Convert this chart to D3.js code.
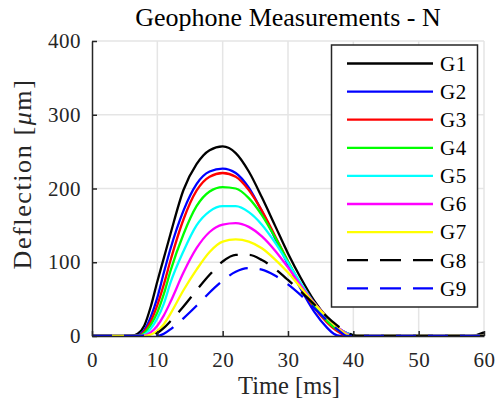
<!DOCTYPE html>
<html><head><meta charset="utf-8">
<script src="https://cdn.jsdelivr.net/npm/d3@7"></script>
<style>body{margin:0;background:#fff}svg{display:block}
text{font-family:"Liberation Serif",serif}</style>
</head><body><svg id="c" width="496" height="403"></svg>
<script>
const times = [0,5,6,7,8,9,10,11,12,14,16,18,20,22,24,26,28,30,32,34,36,37,38,39,40,41,42,58,60];
const G1 = [0,0,0,3,14,40,74,106,138,198,233,252,257,248,223,188,150,112,78,48,25,16,9,4,1,0,0,0,5];
const G2 = [0,0,0,1,8,26,52,86,118,170,206,223,227,221,201,169,133,97,63,33,11,3,0,0,0,0,0,0,0];
const G3 = [0,0,0,0,6,20,42,70,102,158,197,216,221,216,198,170,136,101,67,39,18,10,4,0,0,0,0,0,0];
const G4 = [0,0,0,0,4,15,32,57,88,138,176,196,202,200,187,164,134,101,69,41,20,12,6,2,0,0,0,0,0];
const G5 = [0,0,0,0,2,10,24,44,72,115,150,169,176,176,168,151,127,99,71,45,24,16,9,4,1,0,0,0,0];
const G6 = [0,0,0,0,1,5,14,28,46,86,119,141,151,153,148,135,116,93,68,45,25,16,9,3,0,0,0,0,0];
const G7 = [0,0,0,0,0,2,7,16,30,62,90,114,128,131,128,119,104,86,65,44,25,16,8,2,0,0,0,0,0];
const G8 = [0,0,0,0,0,0,4,11,20,40,62,83,101,110,110,103,91,76,60,43,26,18,11,5,1,0,0,0,0];
const G9 = [0,0,0,0,0,0,0,3,9,24,41,59,75,87,92,90,82,70,55,38,21,13,6,0,0,0,0,0,0];
const seriesNames = ["G1","G2","G3","G4","G5","G6","G7","G8","G9"];
const seriesValues = [G1,G2,G3,G4,G5,G6,G7,G8,G9];
const seriesColors = ["#000000","#0000ff","#ff0000","#00ff00","#00ffff","#ff00ff","#ffff00","#000000","#0000ff"];
const seriesDashed = [false,false,false,false,false,false,false,true,true];
const xTicks = [0,10,20,30,40,50,60];
const yTicks = [0,100,200,300,400];

const svg = d3.select("#c");
const L=92, R=484, T=41, B=336;
const x = d3.scaleLinear().domain([0,60]).range([L,R]);
const y = d3.scaleLinear().domain([0,400]).range([B,T]);
const axisCol = "#262626";

// grid
svg.append("g").selectAll("line").data(xTicks.slice(1)).join("line")
  .attr("x1",d=>x(d)).attr("x2",d=>x(d)).attr("y1",T).attr("y2",B)
  .attr("stroke","#e5e5e5").attr("stroke-width",1.5);
svg.append("g").selectAll("line").data(yTicks.slice(1)).join("line")
  .attr("x1",L).attr("x2",R).attr("y1",d=>y(d)).attr("y2",d=>y(d))
  .attr("stroke","#e5e5e5").attr("stroke-width",1.5);

// curves
const line = d3.line().x((d,i)=>x(times[i])).y(d=>y(d)).curve(d3.curveMonotoneX);
svg.append("clipPath").attr("id","pc").append("rect")
  .attr("x",L).attr("y",T-2).attr("width",R-L+1).attr("height",B-T+2);
seriesValues.forEach((vals,k)=>{
  svg.append("path").attr("d",line(vals)).attr("fill","none")
    .attr("stroke",seriesColors[k]).attr("stroke-width",2.3)
    .attr("stroke-dasharray",seriesDashed[k]?"20,12":null)
    .attr("clip-path","url(#pc)");
});

// axes
const xa = svg.append("g").attr("transform",`translate(0,${B})`)
  .call(d3.axisBottom(x).tickValues(xTicks).tickSize(-5).tickPadding(12).tickSizeOuter(0));
const ya = svg.append("g").attr("transform",`translate(${L},0)`)
  .call(d3.axisLeft(y).tickValues(yTicks).tickSize(-5).tickPadding(11).tickSizeOuter(0));
[xa,ya].forEach(a=>{
  a.attr("font-family",null).attr("font-size",null);
  a.select(".domain").attr("stroke",axisCol).attr("stroke-width",1.5);
  a.selectAll(".tick line").attr("stroke",axisCol).attr("stroke-width",1.5);
  a.selectAll("text").attr("fill",axisCol).style("font-size","21px").style("letter-spacing","0.5px");
});
xa.selectAll("text").attr("dy","0.71em").attr("y",16);

// titles
svg.append("text").attr("x",(L+R)/2).attr("y",26).attr("text-anchor","middle")
  .style("font-size","26px").attr("fill","#000").text("Geophone Measurements - N");
svg.append("text").attr("x",(L+R)/2+1).attr("y",394).attr("text-anchor","middle")
  .style("font-size","24.5px").attr("fill",axisCol).text("Time [ms]");
const yl = svg.append("text").attr("transform",`translate(31,174) rotate(-90)`)
  .attr("text-anchor","middle").style("font-size","26px").style("letter-spacing","1.6px").attr("fill",axisCol);
yl.append("tspan").text("Deflection [");
yl.append("tspan").attr("font-style","italic").text("μ");
yl.append("tspan").text("m]");

// legend
const lg = svg.append("g");
lg.append("rect").attr("x",331.5).attr("y",45).attr("width",146).attr("height",262)
  .attr("fill","#fff").attr("stroke",axisCol).attr("stroke-width",1.5);
seriesNames.forEach((n,k)=>{
  const yy = 63.5 + k*28.1;
  lg.append("line").attr("x1",347).attr("x2",433).attr("y1",yy).attr("y2",yy)
    .attr("stroke",seriesColors[k]).attr("stroke-width",2.3)
    .attr("stroke-dasharray",seriesDashed[k]?"21,12":null);
  lg.append("text").attr("x",440).attr("y",yy).attr("dy","0.35em")
    .style("font-size","21px").style("letter-spacing","0.5px").attr("fill","#000").text(n);
});
</script></body></html>
